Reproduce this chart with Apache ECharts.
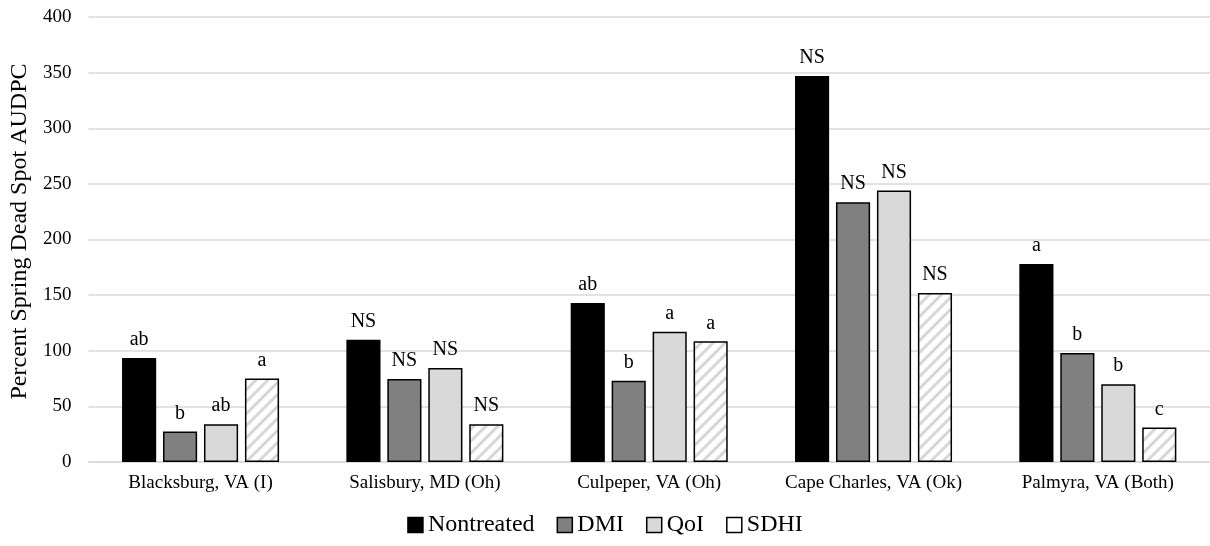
<!DOCTYPE html>
<html>
<head>
<meta charset="utf-8">
<script src="https://cdn.jsdelivr.net/npm/echarts@6/dist/echarts.min.js"></script>
<style>html,body{margin:0;padding:0;background:#fff}#c{width:1210px;height:546px}</style>
</head>
<body>
<div id="c"></div>
<script>
const categories = ['Blacksburg, VA (I)', 'Salisbury, MD (Oh)', 'Culpeper, VA (Oh)', 'Cape Charles, VA (Ok)', 'Palmyra, VA (Both)'];
const seriesNames = ['Nontreated', 'DMI', 'QoI', 'SDHI'];
const nontreated = [93.5, 110, 143, 347, 178];
const dmi = [27.5, 74.6, 73, 233.5, 98];
const qoi = [34, 84.5, 117, 244, 70];
const sdhi = [75, 34, 108.5, 152, 31];
const nontreatedLabels = ['ab', 'NS', 'ab', 'NS', 'a'];
const dmiLabels = ['b', 'NS', 'b', 'NS', 'b'];
const qoiLabels = ['ab', 'NS', 'a', 'NS', 'b'];
const sdhiLabels = ['a', 'NS', 'a', 'NS', 'c'];
const yTicks = [0, 50, 100, 150, 200, 250, 300, 350, 400];

function hatch() {
  const s = 12;
  const cv = document.createElement('canvas');
  cv.width = s; cv.height = s;
  const ctx = cv.getContext('2d');
  ctx.fillStyle = '#ffffff';
  ctx.fillRect(0, 0, s, s);
  ctx.strokeStyle = '#d6d6d6';
  ctx.lineWidth = 3;
  ctx.beginPath();
  ctx.moveTo(-2, s + 2); ctx.lineTo(s + 2, -2);
  ctx.moveTo(-2, 2); ctx.lineTo(2, -2);
  ctx.moveTo(s - 2, s + 2); ctx.lineTo(s + 2, s - 2);
  ctx.stroke();
  return cv;
}

const font = 'Liberation Serif, Times New Roman, serif';
const fills = ['#000000', '#808080', '#d9d9d9', {image: hatch(), repeat: 'repeat'}];
const values = [nontreated, dmi, qoi, sdhi];
const labels = [nontreatedLabels, dmiLabels, qoiLabels, sdhiLabels];

const chart = echarts.init(document.getElementById('c'), null, {renderer: 'canvas'});
chart.setOption({
  animation: false,
  backgroundColor: '#fff',
  grid: {left: 87, right: 0, top: 17, bottom: 84, containLabel: false},
  legend: {
    bottom: 4,
    left: 'center',
    itemWidth: 15,
    itemHeight: 15,
    itemGap: 22,
    textStyle: {fontFamily: font, fontSize: 24, color: '#000'},
    data: seriesNames.map((n, i) => ({
      name: n,
      icon: 'rect',
      itemStyle: {color: i === 3 ? '#ffffff' : fills[i], borderColor: '#000', borderWidth: 1.5}
    }))
  },
  xAxis: {
    type: 'category',
    data: categories,
    axisLine: {show: true, lineStyle: {color: '#d9d9d9', width: 1.5}},
    axisTick: {show: false},
    axisLabel: {fontFamily: font, fontSize: 19, color: '#000', margin: 12, interval: 0}
  },
  yAxis: {
    type: 'value',
    min: 0, max: 400, interval: 50,
    name: 'Percent Spring Dead Spot AUDPC',
    nameLocation: 'middle',
    nameGap: 47,
    nameTextStyle: {fontFamily: font, fontSize: 24, color: '#000', padding: [0, 0, 0, 16]},
    axisLine: {show: false},
    axisTick: {show: false},
    axisLabel: {fontFamily: font, fontSize: 19, color: '#000', margin: 17,
      formatter: v => yTicks.includes(v) ? String(v) : ''},
    splitLine: {lineStyle: {color: '#d9d9d9', width: 1.5}}
  },
  series: seriesNames.map((n, i) => ({
    name: n,
    type: 'bar',
    data: values[i],
    barGap: '20%',
    barCategoryGap: '30%',
    itemStyle: {color: fills[i], borderColor: '#000', borderWidth: 1.5},
    label: {
      show: true,
      position: 'top',
      distance: 8,
      fontFamily: font,
      fontSize: 20,
      color: '#000',
      formatter: p => labels[i][p.dataIndex]
    }
  }))
});
</script>
</body>
</html>
